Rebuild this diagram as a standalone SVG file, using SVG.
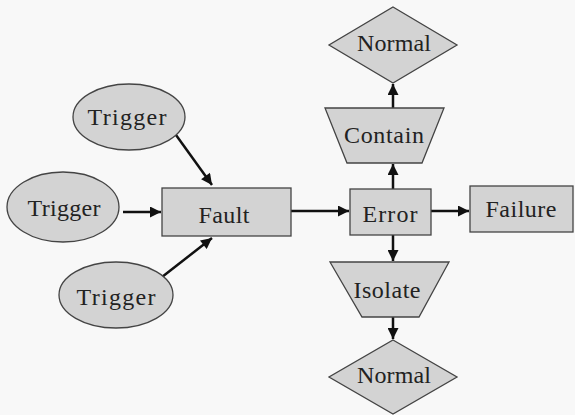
<svg xmlns="http://www.w3.org/2000/svg" width="575" height="415" viewBox="0 0 575 415">
<style>
.s{fill:#d3d3d3;stroke:#444;stroke-width:1.3}
.t{font-family:'Liberation Serif','DejaVu Serif',serif;font-size:24px;fill:#222;text-anchor:middle}
.c{stroke:#111;stroke-width:2.5;fill:none;marker-end:url(#ah)}
</style>
<defs>
<marker id="ah" viewBox="0 0 10 10" refX="10" refY="5" markerWidth="5" markerHeight="4.4" orient="auto" markerUnits="strokeWidth">
<path d="M0,0 L10,5 L0,10 z" fill="#111"/>
</marker>
</defs>
<rect width="575" height="415" fill="#f8f8f8"/>
<g id="connectors">
<line class="c" x1="176" y1="135" x2="212" y2="185"/>
<line class="c" x1="123" y1="212" x2="161" y2="212"/>
<line class="c" x1="162" y1="277" x2="212" y2="238"/>
<line class="c" x1="291" y1="211" x2="349" y2="211"/>
<line class="c" x1="431" y1="211" x2="469" y2="211"/>
<line class="c" x1="393" y1="189" x2="393" y2="164"/>
<line class="c" x1="393" y1="108" x2="393" y2="84"/>
<line class="c" x1="393" y1="235" x2="393" y2="261"/>
<line class="c" x1="393" y1="317" x2="393" y2="339"/>
</g>
<g id="trigger1"><ellipse class="s" cx="129" cy="117" rx="56" ry="33"/><text class="t" x="127" y="125" textLength="79" lengthAdjust="spacing">Trigger</text></g>
<g id="trigger2"><ellipse class="s" cx="63" cy="207" rx="56" ry="35"/><text class="t" x="64" y="216" textLength="73" lengthAdjust="spacing">Trigger</text></g>
<g id="trigger3"><ellipse class="s" cx="116" cy="295" rx="57" ry="33"/><text class="t" x="116" y="305" textLength="79" lengthAdjust="spacing">Trigger</text></g>
<g id="fault"><rect class="s" x="162" y="188" width="129" height="48"/><text class="t" x="224" y="223" textLength="51" lengthAdjust="spacing">Fault</text></g>
<g id="error"><rect class="s" x="350" y="189" width="81" height="46"/><text class="t" x="390" y="222" textLength="55" lengthAdjust="spacing">Error</text></g>
<g id="failure"><rect class="s" x="470" y="186" width="103" height="46"/><text class="t" x="521" y="217" textLength="71" lengthAdjust="spacing">Failure</text></g>
<g id="contain"><polygon class="s" points="325,108 444,108 422,163 347,163"/><text class="t" x="384" y="143" textLength="80" lengthAdjust="spacing">Contain</text></g>
<g id="isolate"><polygon class="s" points="330,262 449,262 419,317 362,317"/><text class="t" x="387" y="298" textLength="67" lengthAdjust="spacing">Isolate</text></g>
<g id="normal1"><polygon class="s" points="393,7 457,45 393,83 329,45"/><text class="t" x="394" y="51" textLength="74" lengthAdjust="spacing">Normal</text></g>
<g id="normal2"><polygon class="s" points="393,340 457,377 393,414 329,377"/><text class="t" x="394" y="383" textLength="74" lengthAdjust="spacing">Normal</text></g>
</svg>
